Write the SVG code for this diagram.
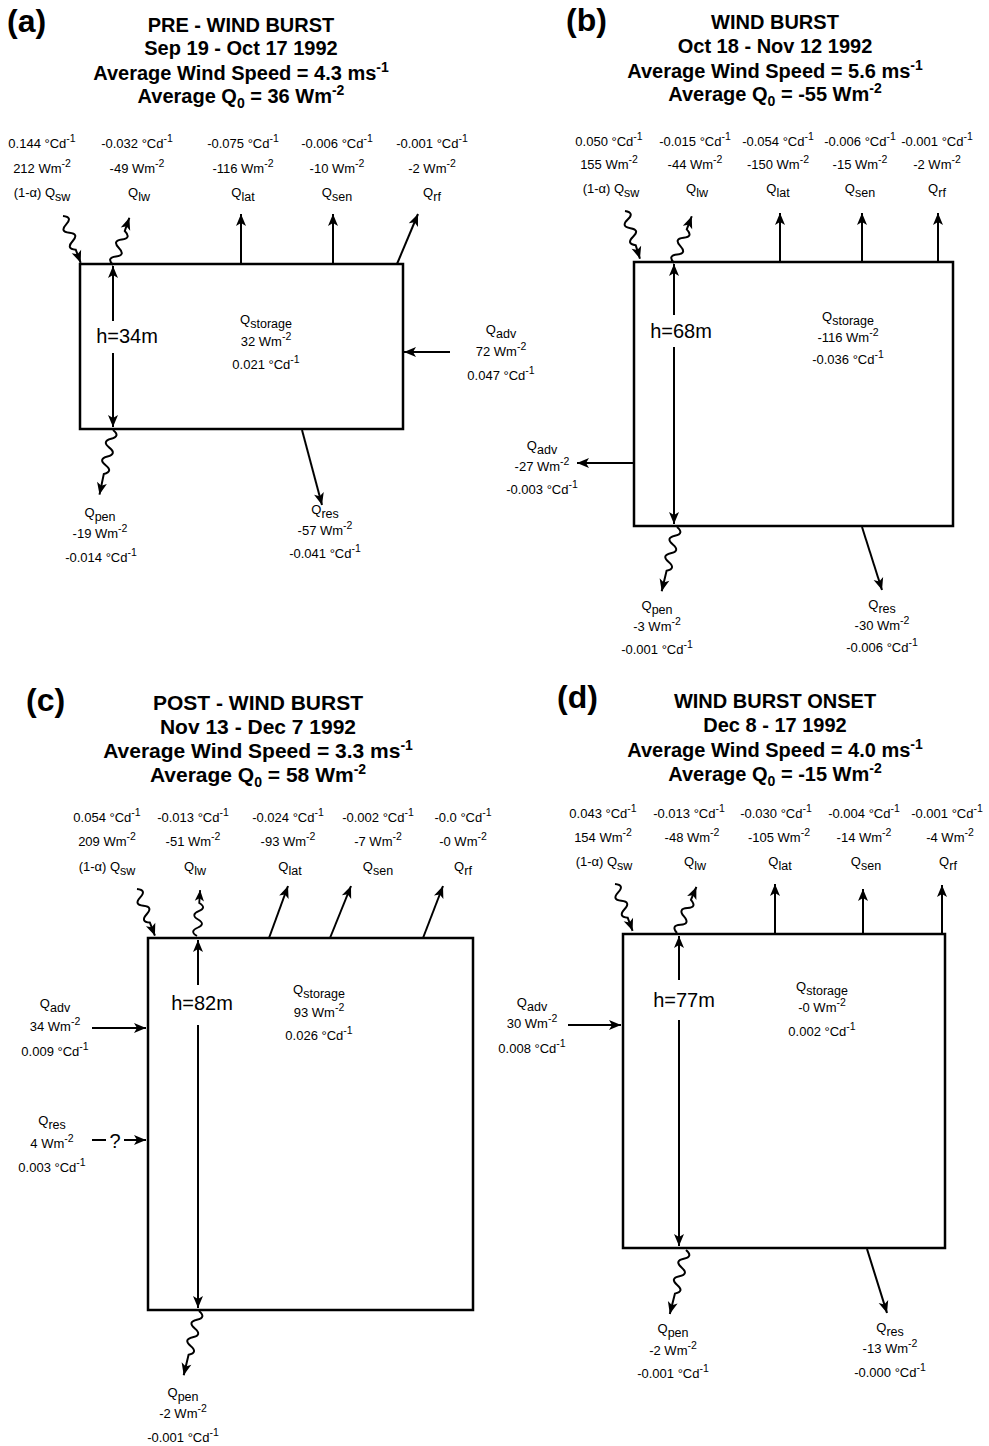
<svg xmlns="http://www.w3.org/2000/svg" xmlns:xlink="http://www.w3.org/1999/xlink" width="989" height="1446" viewBox="0 0 989 1446">
<style>
text{font-family:"Liberation Sans",Arial,Helvetica,sans-serif;fill:#000}
.t{font-size:13px;text-anchor:middle}
.ti{font-size:20px;font-weight:bold;text-anchor:middle}
.ti2{font-size:21px;font-weight:bold;text-anchor:middle}
.pl{font-size:32px;font-weight:bold}
.h{font-size:20px;text-anchor:middle}
.sb{font-size:12.5px}
.sp{font-size:10.5px}
.tsb{font-size:14px}
.ln{fill:none;stroke:#000;stroke-width:2}
.bx{fill:none;stroke:#000;stroke-width:2.5}
</style>
<defs>
<marker id="ah" viewBox="-13 -6 14 12" refX="0" refY="0" markerWidth="14" markerHeight="12" markerUnits="userSpaceOnUse" orient="auto">
<path d="M0,0 L-12,-5 L-9,0 L-12,5 z" fill="#000"/>
</marker>
<path id="wS" class="ln" marker-end="url(#ah)" d="M0,0 c6,3 6,6 0,9 s-6,6 0,9 s6,6 0,9 s-6,6 0,9 l0,14"/>
<path id="wL" class="ln" marker-end="url(#ah)" d="M0,0 c6,3 6,6 0,9 s-6,6 0,9 s6,6 0,9 s-6,6 0,9 s6,6 0,9 l0,21"/>
</defs>
<rect width="989" height="1446" fill="#fff"/>

<!-- ================= PANEL A ================= -->
<g id="panel-a">
<g id="a-title">
<text class="pl" x="7" y="32">(a)</text>
<text class="ti" x="241" y="32">PRE - WIND BURST</text>
<text class="ti" x="241" y="55">Sep 19 - Oct 17 1992</text>
<text class="ti" x="241" y="80">Average Wind Speed = 4.3 ms<tspan class="tsb" dy="-8">-1</tspan></text>
<text class="ti" x="241" y="103">Average Q<tspan class="tsb" dy="5">0</tspan><tspan dy="-5"> = 36 Wm</tspan><tspan class="tsb" dy="-8">-2</tspan></text>
</g>
<g id="a-box"><rect class="bx" x="80" y="264" width="323" height="165"/></g>
<g id="a-qsw">
<text class="t" x="42" y="148">0.144 °Cd<tspan class="sp" dy="-6">-1</tspan></text>
<text class="t" x="42" y="173">212 Wm<tspan class="sp" dy="-6">-2</tspan></text>
<text class="t" x="42" y="197">(1-α) Q<tspan class="sb" dy="4">sw</tspan></text>
</g>
<g id="a-qlw">
<text class="t" x="137" y="148">-0.032 °Cd<tspan class="sp" dy="-6">-1</tspan></text>
<text class="t" x="137" y="173">-49 Wm<tspan class="sp" dy="-6">-2</tspan></text>
<text class="t" x="139" y="197">Q<tspan class="sb" dy="4">lw</tspan></text>
</g>
<g id="a-qlat">
<text class="t" x="243" y="148">-0.075 °Cd<tspan class="sp" dy="-6">-1</tspan></text>
<text class="t" x="243" y="173">-116 Wm<tspan class="sp" dy="-6">-2</tspan></text>
<text class="t" x="243" y="197">Q<tspan class="sb" dy="4">lat</tspan></text>
</g>
<g id="a-qsen">
<text class="t" x="337" y="148">-0.006 °Cd<tspan class="sp" dy="-6">-1</tspan></text>
<text class="t" x="337" y="173">-10 Wm<tspan class="sp" dy="-6">-2</tspan></text>
<text class="t" x="337" y="197">Q<tspan class="sb" dy="4">sen</tspan></text>
</g>
<g id="a-qrf">
<text class="t" x="432" y="148">-0.001 °Cd<tspan class="sp" dy="-6">-1</tspan></text>
<text class="t" x="432" y="173">-2 Wm<tspan class="sp" dy="-6">-2</tspan></text>
<text class="t" x="432" y="197">Q<tspan class="sb" dy="4">rf</tspan></text>
</g>
<g id="a-h"><text class="h" x="127" y="343">h=34m</text></g>
<g id="a-qstorage">
<text class="t" x="266" y="324">Q<tspan class="sb" dy="4">storage</tspan></text>
<text class="t" x="266" y="346">32 Wm<tspan class="sp" dy="-6">-2</tspan></text>
<text class="t" x="266" y="369">0.021 °Cd<tspan class="sp" dy="-6">-1</tspan></text>
</g>
<g id="a-qadv">
<text class="t" x="501" y="334">Q<tspan class="sb" dy="4">adv</tspan></text>
<text class="t" x="501" y="356">72 Wm<tspan class="sp" dy="-6">-2</tspan></text>
<text class="t" x="501" y="380">0.047 °Cd<tspan class="sp" dy="-6">-1</tspan></text>
</g>
<g id="a-qpen">
<text class="t" x="100" y="517">Q<tspan class="sb" dy="4">pen</tspan></text>
<text class="t" x="100" y="538">-19 Wm<tspan class="sp" dy="-6">-2</tspan></text>
<text class="t" x="101" y="562">-0.014 °Cd<tspan class="sp" dy="-6">-1</tspan></text>
</g>
<g id="a-qres">
<text class="t" x="325" y="514">Q<tspan class="sb" dy="4">res</tspan></text>
<text class="t" x="325" y="535">-57 Wm<tspan class="sp" dy="-6">-2</tspan></text>
<text class="t" x="325" y="558">-0.041 °Cd<tspan class="sp" dy="-6">-1</tspan></text>
</g>
<g id="a-connectors">
<use xlink:href="#wS" transform="translate(63,216) rotate(-20.7)"/>
<use xlink:href="#wS" transform="translate(113,265) rotate(-160.9)"/>
<line class="ln" x1="241" y1="264" x2="241" y2="214" marker-end="url(#ah)"/>
<line class="ln" x1="333" y1="264" x2="333" y2="214" marker-end="url(#ah)"/>
<line class="ln" x1="397" y1="264" x2="418" y2="214" marker-end="url(#ah)"/>
<line class="ln" x1="113" y1="321" x2="113" y2="266" marker-end="url(#ah)"/>
<line class="ln" x1="113" y1="353" x2="113" y2="427" marker-end="url(#ah)"/>
<line class="ln" x1="450" y1="352" x2="404" y2="352" marker-end="url(#ah)"/>
<use xlink:href="#wL" transform="translate(113,430) rotate(11.8)"/>
<line class="ln" x1="302" y1="430" x2="322" y2="505" marker-end="url(#ah)"/>
</g>
</g>

<!-- ================= PANEL B ================= -->
<g id="panel-b">
<g id="b-title">
<text class="pl" x="566" y="31">(b)</text>
<text class="ti" x="775" y="29">WIND BURST</text>
<text class="ti" x="775" y="53">Oct 18 - Nov 12 1992</text>
<text class="ti" x="775" y="78">Average Wind Speed = 5.6 ms<tspan class="tsb" dy="-8">-1</tspan></text>
<text class="ti" x="775" y="101">Average Q<tspan class="tsb" dy="5">0</tspan><tspan dy="-5"> = -55 Wm</tspan><tspan class="tsb" dy="-8">-2</tspan></text>
</g>
<g id="b-box"><rect class="bx" x="634" y="262" width="319" height="264"/></g>
<g id="b-qsw">
<text class="t" x="609" y="146">0.050 °Cd<tspan class="sp" dy="-6">-1</tspan></text>
<text class="t" x="609" y="169">155 Wm<tspan class="sp" dy="-6">-2</tspan></text>
<text class="t" x="611" y="193">(1-α) Q<tspan class="sb" dy="4">sw</tspan></text>
</g>
<g id="b-qlw">
<text class="t" x="695" y="146">-0.015 °Cd<tspan class="sp" dy="-6">-1</tspan></text>
<text class="t" x="695" y="169">-44 Wm<tspan class="sp" dy="-6">-2</tspan></text>
<text class="t" x="697" y="193">Q<tspan class="sb" dy="4">lw</tspan></text>
</g>
<g id="b-qlat">
<text class="t" x="778" y="146">-0.054 °Cd<tspan class="sp" dy="-6">-1</tspan></text>
<text class="t" x="778" y="169">-150 Wm<tspan class="sp" dy="-6">-2</tspan></text>
<text class="t" x="778" y="193">Q<tspan class="sb" dy="4">lat</tspan></text>
</g>
<g id="b-qsen">
<text class="t" x="860" y="146">-0.006 °Cd<tspan class="sp" dy="-6">-1</tspan></text>
<text class="t" x="860" y="169">-15 Wm<tspan class="sp" dy="-6">-2</tspan></text>
<text class="t" x="860" y="193">Q<tspan class="sb" dy="4">sen</tspan></text>
</g>
<g id="b-qrf">
<text class="t" x="937" y="146">-0.001 °Cd<tspan class="sp" dy="-6">-1</tspan></text>
<text class="t" x="937" y="169">-2 Wm<tspan class="sp" dy="-6">-2</tspan></text>
<text class="t" x="937" y="193">Q<tspan class="sb" dy="4">rf</tspan></text>
</g>
<g id="b-h"><text class="h" x="681" y="338">h=68m</text></g>
<g id="b-qstorage">
<text class="t" x="848" y="321">Q<tspan class="sb" dy="4">storage</tspan></text>
<text class="t" x="848" y="342">-116 Wm<tspan class="sp" dy="-6">-2</tspan></text>
<text class="t" x="848" y="364">-0.036 °Cd<tspan class="sp" dy="-6">-1</tspan></text>
</g>
<g id="b-qadv">
<text class="t" x="542" y="450">Q<tspan class="sb" dy="4">adv</tspan></text>
<text class="t" x="542" y="471">-27 Wm<tspan class="sp" dy="-6">-2</tspan></text>
<text class="t" x="542" y="494">-0.003 °Cd<tspan class="sp" dy="-6">-1</tspan></text>
</g>
<g id="b-qpen">
<text class="t" x="657" y="610">Q<tspan class="sb" dy="4">pen</tspan></text>
<text class="t" x="657" y="631">-3 Wm<tspan class="sp" dy="-6">-2</tspan></text>
<text class="t" x="657" y="654">-0.001 °Cd<tspan class="sp" dy="-6">-1</tspan></text>
</g>
<g id="b-qres">
<text class="t" x="882" y="609">Q<tspan class="sb" dy="4">res</tspan></text>
<text class="t" x="882" y="630">-30 Wm<tspan class="sp" dy="-6">-2</tspan></text>
<text class="t" x="882" y="652">-0.006 °Cd<tspan class="sp" dy="-6">-1</tspan></text>
</g>
<g id="b-connectors">
<use xlink:href="#wS" transform="translate(625,211) rotate(-17.4)"/>
<use xlink:href="#wS" transform="translate(674,263) rotate(-159.2)"/>
<line class="ln" x1="780" y1="262" x2="780" y2="213" marker-end="url(#ah)"/>
<line class="ln" x1="862" y1="262" x2="862" y2="213" marker-end="url(#ah)"/>
<line class="ln" x1="938" y1="262" x2="938" y2="213" marker-end="url(#ah)"/>
<line class="ln" x1="674" y1="315" x2="674" y2="264" marker-end="url(#ah)"/>
<line class="ln" x1="674" y1="347" x2="674" y2="524" marker-end="url(#ah)"/>
<line class="ln" x1="634" y1="463" x2="577" y2="463" marker-end="url(#ah)"/>
<use xlink:href="#wL" transform="translate(677,527) rotate(13.4)"/>
<line class="ln" x1="862" y1="527" x2="882" y2="590" marker-end="url(#ah)"/>
</g>
</g>

<!-- ================= PANEL C ================= -->
<g id="panel-c">
<g id="c-title">
<text class="pl" x="26" y="711">(c)</text>
<text class="ti2" x="258" y="710">POST - WIND BURST</text>
<text class="ti2" x="258" y="734">Nov 13 - Dec 7 1992</text>
<text class="ti2" x="258" y="758">Average Wind Speed = 3.3 ms<tspan class="tsb" dy="-8">-1</tspan></text>
<text class="ti2" x="258" y="782">Average Q<tspan class="tsb" dy="5">0</tspan><tspan dy="-5"> = 58 Wm</tspan><tspan class="tsb" dy="-8">-2</tspan></text>
</g>
<g id="c-box"><rect class="bx" x="148" y="938" width="325" height="372"/></g>
<g id="c-qsw">
<text class="t" x="107" y="822">0.054 °Cd<tspan class="sp" dy="-6">-1</tspan></text>
<text class="t" x="107" y="846">209 Wm<tspan class="sp" dy="-6">-2</tspan></text>
<text class="t" x="107" y="871">(1-α) Q<tspan class="sb" dy="4">sw</tspan></text>
</g>
<g id="c-qlw">
<text class="t" x="193" y="822">-0.013 °Cd<tspan class="sp" dy="-6">-1</tspan></text>
<text class="t" x="193" y="846">-51 Wm<tspan class="sp" dy="-6">-2</tspan></text>
<text class="t" x="195" y="871">Q<tspan class="sb" dy="4">lw</tspan></text>
</g>
<g id="c-qlat">
<text class="t" x="288" y="822">-0.024 °Cd<tspan class="sp" dy="-6">-1</tspan></text>
<text class="t" x="288" y="846">-93 Wm<tspan class="sp" dy="-6">-2</tspan></text>
<text class="t" x="290" y="871">Q<tspan class="sb" dy="4">lat</tspan></text>
</g>
<g id="c-qsen">
<text class="t" x="378" y="822">-0.002 °Cd<tspan class="sp" dy="-6">-1</tspan></text>
<text class="t" x="378" y="846">-7 Wm<tspan class="sp" dy="-6">-2</tspan></text>
<text class="t" x="378" y="871">Q<tspan class="sb" dy="4">sen</tspan></text>
</g>
<g id="c-qrf">
<text class="t" x="463" y="822">-0.0 °Cd<tspan class="sp" dy="-6">-1</tspan></text>
<text class="t" x="463" y="846">-0 Wm<tspan class="sp" dy="-6">-2</tspan></text>
<text class="t" x="463" y="871">Q<tspan class="sb" dy="4">rf</tspan></text>
</g>
<g id="c-h"><text class="h" x="202" y="1010">h=82m</text></g>
<g id="c-qstorage">
<text class="t" x="319" y="994">Q<tspan class="sb" dy="4">storage</tspan></text>
<text class="t" x="319" y="1017">93 Wm<tspan class="sp" dy="-6">-2</tspan></text>
<text class="t" x="319" y="1040">0.026 °Cd<tspan class="sp" dy="-6">-1</tspan></text>
</g>
<g id="c-qadv">
<text class="t" x="55" y="1008">Q<tspan class="sb" dy="4">adv</tspan></text>
<text class="t" x="55" y="1031">34 Wm<tspan class="sp" dy="-6">-2</tspan></text>
<text class="t" x="55" y="1056">0.009 °Cd<tspan class="sp" dy="-6">-1</tspan></text>
</g>
<g id="c-qres">
<text class="t" x="52" y="1125">Q<tspan class="sb" dy="4">res</tspan></text>
<text class="t" x="52" y="1148">4 Wm<tspan class="sp" dy="-6">-2</tspan></text>
<text class="t" x="52" y="1172">0.003 °Cd<tspan class="sp" dy="-6">-1</tspan></text>
<text class="h" x="115" y="1148">?</text>
</g>
<g id="c-qpen">
<text class="t" x="183" y="1397">Q<tspan class="sb" dy="4">pen</tspan></text>
<text class="t" x="183" y="1418">-2 Wm<tspan class="sp" dy="-6">-2</tspan></text>
<text class="t" x="183" y="1442">-0.001 °Cd<tspan class="sp" dy="-6">-1</tspan></text>
</g>
<g id="c-connectors">
<use xlink:href="#wS" transform="translate(137,889) rotate(-21)"/>
<use xlink:href="#wS" transform="translate(197,936) rotate(-176.1) scale(0.92)"/>
<line class="ln" x1="269" y1="938" x2="288" y2="886" marker-end="url(#ah)"/>
<line class="ln" x1="330" y1="938" x2="351" y2="886" marker-end="url(#ah)"/>
<line class="ln" x1="423" y1="938" x2="443" y2="886" marker-end="url(#ah)"/>
<line class="ln" x1="198" y1="985" x2="198" y2="940" marker-end="url(#ah)"/>
<line class="ln" x1="198" y1="1025" x2="198" y2="1308" marker-end="url(#ah)"/>
<line class="ln" x1="92" y1="1028" x2="146" y2="1028" marker-end="url(#ah)"/>
<line class="ln" x1="92" y1="1140" x2="106" y2="1140"/>
<line class="ln" x1="124" y1="1140" x2="146" y2="1140" marker-end="url(#ah)"/>
<use xlink:href="#wL" transform="translate(199,1311) rotate(13.4)"/>
</g>
</g>

<!-- ================= PANEL D ================= -->
<g id="panel-d">
<g id="d-title">
<text class="pl" x="557" y="708">(d)</text>
<text class="ti" x="775" y="708">WIND BURST ONSET</text>
<text class="ti" x="775" y="732">Dec 8 - 17 1992</text>
<text class="ti" x="775" y="757">Average Wind Speed = 4.0 ms<tspan class="tsb" dy="-8">-1</tspan></text>
<text class="ti" x="775" y="781">Average Q<tspan class="tsb" dy="5">0</tspan><tspan dy="-5"> = -15 Wm</tspan><tspan class="tsb" dy="-8">-2</tspan></text>
</g>
<g id="d-box"><rect class="bx" x="623" y="934" width="322" height="314"/></g>
<g id="d-qsw">
<text class="t" x="603" y="818">0.043 °Cd<tspan class="sp" dy="-6">-1</tspan></text>
<text class="t" x="603" y="842">154 Wm<tspan class="sp" dy="-6">-2</tspan></text>
<text class="t" x="604" y="866">(1-α) Q<tspan class="sb" dy="4">sw</tspan></text>
</g>
<g id="d-qlw">
<text class="t" x="689" y="818">-0.013 °Cd<tspan class="sp" dy="-6">-1</tspan></text>
<text class="t" x="692" y="842">-48 Wm<tspan class="sp" dy="-6">-2</tspan></text>
<text class="t" x="695" y="866">Q<tspan class="sb" dy="4">lw</tspan></text>
</g>
<g id="d-qlat">
<text class="t" x="776" y="818">-0.030 °Cd<tspan class="sp" dy="-6">-1</tspan></text>
<text class="t" x="779" y="842">-105 Wm<tspan class="sp" dy="-6">-2</tspan></text>
<text class="t" x="780" y="866">Q<tspan class="sb" dy="4">lat</tspan></text>
</g>
<g id="d-qsen">
<text class="t" x="864" y="818">-0.004 °Cd<tspan class="sp" dy="-6">-1</tspan></text>
<text class="t" x="864" y="842">-14 Wm<tspan class="sp" dy="-6">-2</tspan></text>
<text class="t" x="866" y="866">Q<tspan class="sb" dy="4">sen</tspan></text>
</g>
<g id="d-qrf">
<text class="t" x="947" y="818">-0.001 °Cd<tspan class="sp" dy="-6">-1</tspan></text>
<text class="t" x="950" y="842">-4 Wm<tspan class="sp" dy="-6">-2</tspan></text>
<text class="t" x="948" y="866">Q<tspan class="sb" dy="4">rf</tspan></text>
</g>
<g id="d-h"><text class="h" x="684" y="1007">h=77m</text></g>
<g id="d-qstorage">
<text class="t" x="822" y="991">Q<tspan class="sb" dy="4">storage</tspan></text>
<text class="t" x="822" y="1012">-0 Wm<tspan class="sp" dy="-6">-2</tspan></text>
<text class="t" x="822" y="1036">0.002 °Cd<tspan class="sp" dy="-6">-1</tspan></text>
</g>
<g id="d-qadv">
<text class="t" x="532" y="1007">Q<tspan class="sb" dy="4">adv</tspan></text>
<text class="t" x="532" y="1028">30 Wm<tspan class="sp" dy="-6">-2</tspan></text>
<text class="t" x="532" y="1053">0.008 °Cd<tspan class="sp" dy="-6">-1</tspan></text>
</g>
<g id="d-qpen">
<text class="t" x="673" y="1333">Q<tspan class="sb" dy="4">pen</tspan></text>
<text class="t" x="673" y="1355">-2 Wm<tspan class="sp" dy="-6">-2</tspan></text>
<text class="t" x="673" y="1378">-0.001 °Cd<tspan class="sp" dy="-6">-1</tspan></text>
</g>
<g id="d-qres">
<text class="t" x="890" y="1332">Q<tspan class="sb" dy="4">res</tspan></text>
<text class="t" x="890" y="1353">-13 Wm<tspan class="sp" dy="-6">-2</tspan></text>
<text class="t" x="890" y="1377">-0.000 °Cd<tspan class="sp" dy="-6">-1</tspan></text>
</g>
<g id="d-connectors">
<use xlink:href="#wS" transform="translate(615,884) rotate(-20.6)"/>
<use xlink:href="#wS" transform="translate(677,933) rotate(-157.2)"/>
<line class="ln" x1="775" y1="934" x2="775" y2="884" marker-end="url(#ah)"/>
<line class="ln" x1="863" y1="934" x2="863" y2="889" marker-end="url(#ah)"/>
<line class="ln" x1="942" y1="934" x2="942" y2="885" marker-end="url(#ah)"/>
<line class="ln" x1="679" y1="980" x2="679" y2="936" marker-end="url(#ah)"/>
<line class="ln" x1="679" y1="1020" x2="679" y2="1246" marker-end="url(#ah)"/>
<line class="ln" x1="568" y1="1025" x2="621" y2="1025" marker-end="url(#ah)"/>
<use xlink:href="#wL" transform="translate(686,1250) rotate(14.2)"/>
<line class="ln" x1="867" y1="1249" x2="887" y2="1313" marker-end="url(#ah)"/>
</g>
</g>
</svg>
